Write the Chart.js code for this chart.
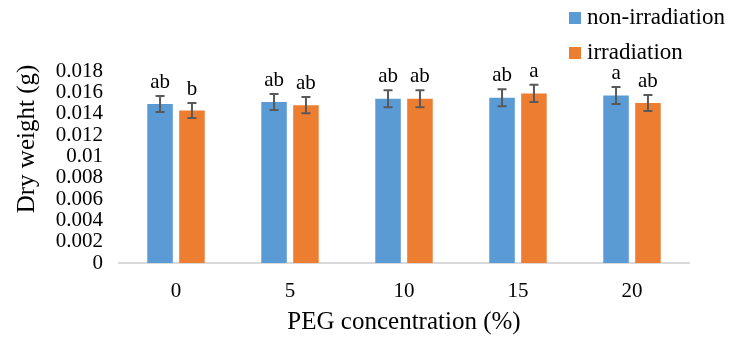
<!DOCTYPE html>
<html>
<head>
<meta charset="utf-8">
<script src="https://cdn.jsdelivr.net/npm/chart.js@4/dist/chart.umd.min.js"></script>
<style>
  html, body { margin: 0; padding: 0; background: #fff; }
  #wrap { width: 731px; height: 339px; }
</style>
</head>
<body>
<div id="wrap"><canvas id="chart-peso" width="731" height="339"></canvas></div>
<script>
// Datos
const categorias = ['0', '5', '10', '15', '20'];
const noIrradiado = [0.0149, 0.0151, 0.0154, 0.0155, 0.0157];
const irradiado = [0.0143, 0.0148, 0.0154, 0.0159, 0.0150];
const errNoIrradiado = [0.00075, 0.00075, 0.0008, 0.0008, 0.0008];
const errIrradiado = [0.0007, 0.00076, 0.0008, 0.0008, 0.00076];
const letrasNoIrradiado = ['ab', 'ab', 'ab', 'ab', 'a'];
const letrasIrradiado = ['b', 'ab', 'ab', 'a', 'ab'];
const ticksY = [0, 0.002, 0.004, 0.006, 0.008, 0.01, 0.012, 0.014, 0.016, 0.018];

const FUENTE = "'Liberation Serif', 'Times New Roman', serif";
const errores = [errNoIrradiado, errIrradiado];
const letras = [letrasNoIrradiado, letrasIrradiado];

// Barras de error + letras encima
const pluginErrores = {
    id: 'errores',
    afterDatasetsDraw(chart) {
        const ctx = chart.ctx;
        const y = chart.scales.y;
        ctx.save();
        chart.data.datasets.forEach((ds, i) => {
            const meta = chart.getDatasetMeta(i);
            meta.data.forEach((bar, j) => {
                const v = ds.data[j];
                const e = errores[i][j];
                const yTop = y.getPixelForValue(v + e);
                const yBot = y.getPixelForValue(v - e);
                ctx.strokeStyle = '#595959';
                ctx.lineWidth = 2;
                ctx.beginPath();
                ctx.moveTo(bar.x, yTop); ctx.lineTo(bar.x, yBot);
                ctx.moveTo(bar.x - 4.5, yTop); ctx.lineTo(bar.x + 4.5, yTop);
                ctx.moveTo(bar.x - 4.5, yBot); ctx.lineTo(bar.x + 4.5, yBot);
                ctx.stroke();

                ctx.fillStyle = '#000';
                ctx.font = '21px ' + FUENTE;
                ctx.textAlign = 'center';
                ctx.textBaseline = 'alphabetic';
                ctx.fillText(letras[i][j], bar.x, yTop - 8);
            });
        });
        ctx.restore();
    }
};

// Leyenda y título del eje Y
const pluginLeyenda = {
    id: 'leyenda',
    afterDraw(chart) {
        const ctx = chart.ctx;
        ctx.save();
        chart.data.datasets.forEach((ds, i) => {
            const top = 12 + i * 35;
            ctx.fillStyle = ds.backgroundColor;
            ctx.fillRect(569, top, 12, 12);
            ctx.fillStyle = '#000';
            ctx.font = '23px ' + FUENTE;
            ctx.textAlign = 'left';
            ctx.textBaseline = 'middle';
            ctx.fillText(ds.label, 587, top + 6);
        });
        ctx.translate(27, 139);
        ctx.rotate(-Math.PI / 2);
        ctx.font = '25px ' + FUENTE;
        ctx.textAlign = 'center';
        ctx.textBaseline = 'middle';
        ctx.fillText('Dry weight (g)', 0, 0);
        ctx.restore();
    }
};

new Chart(document.getElementById('chart-peso'), {
    type: 'bar',
    data: {
        labels: categorias,
        datasets: [
            { label: 'non-irradiation', data: noIrradiado, backgroundColor: '#5B9BD5' },
            { label: 'irradiation', data: irradiado, backgroundColor: '#ED7D31' }
        ]
    },
    options: {
        responsive: false,
        animation: false,
        devicePixelRatio: 1,
        categoryPercentage: 0.56,
        barPercentage: 0.8,
        layout: { padding: { top: 71, right: 42, left: 0, bottom: 0 } },
        plugins: { legend: { display: false }, tooltip: { enabled: false } },
        scales: {
            x: {
                grid: { display: false },
                border: { color: '#d9d9d9', width: 2 },
                ticks: { color: '#000', font: { family: FUENTE, size: 21 }, padding: 8 },
                title: {
                    display: true,
                    text: 'PEG concentration (%)',
                    color: '#000',
                    font: { family: FUENTE, size: 25 },
                    padding: { top: 0, bottom: 2 }
                },
                afterFit: s => { s.height = 76; }
            },
            y: {
                min: 0,
                max: 0.018,
                grid: { display: false },
                border: { display: false },
                afterBuildTicks: s => { s.ticks = ticksY.map(v => ({ value: v })); },
                ticks: {
                    color: '#000',
                    autoSkip: false,
                    font: { family: FUENTE, size: 21 },
                    padding: 8,
                    callback: v => String(Number(v.toFixed(3)))
                },
                afterFit: s => { s.width = 119; }
            }
        }
    },
    plugins: [pluginErrores, pluginLeyenda]
});
</script>
</body>
</html>
